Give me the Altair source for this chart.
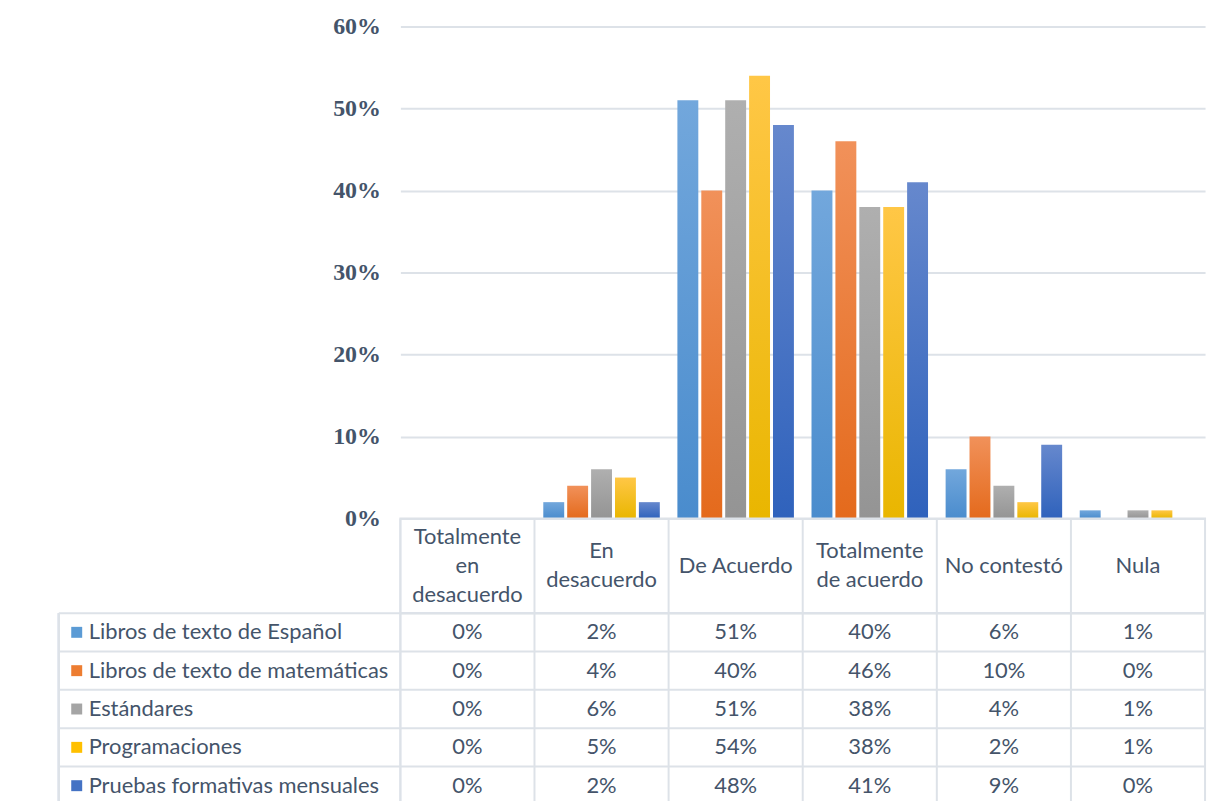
import altair as alt
import pandas as pd

# ---------------- data ----------------
categories = ["Totalmente en desacuerdo", "En desacuerdo", "De Acuerdo",
              "Totalmente de acuerdo", "No contestó", "Nula"]
header_labels = ["Totalmente\nen\ndesacuerdo", "En\ndesacuerdo", "De Acuerdo",
                 "Totalmente\nde acuerdo", "No contestó", "Nula"]
series = ["Libros de texto de Español", "Libros de texto de matemáticas",
          "Estándares", "Programaciones", "Pruebas formativas mensuales"]
row_labels = ["Libros de texto de Español", "Libros de texto de matemáticas",
              "Estándares", "\u00a0Programaciones", "\u00a0Pruebas formativas mensuales"]
espanol = [0, 2, 51, 40, 6, 1]
matematicas = [0, 4, 40, 46, 10, 0]
estandares = [0, 6, 51, 38, 4, 1]
programaciones = [0, 5, 54, 38, 2, 1]
pruebas = [0, 2, 48, 41, 9, 0]
y_ticks = [0, 10, 20, 30, 40, 50, 60]

# ---------------- styles ----------------
top_colors = ["#72a7dc", "#f1915a", "#afafaf", "#ffc746", "#6688cd"]
bottom_colors = ["#4a8ccd", "#e46a1c", "#949494", "#e9b600", "#2f62bc"]
solid_colors = ["#5b9bd5", "#ed7d31", "#a5a5a5", "#ffc000", "#4472c4"]
GRID = "#dde2e8"
TXT = "#44546a"
W, H = 808, 494
HDR_H = 95
ROW_H = 38.5
LEFT_COL = 343
LINE_H = 29

all_vals = [espanol, matematicas, estandares, programaciones, pruebas]
rows = []
for s, lab, vals in zip(series, row_labels, all_vals):
    for c, v in zip(categories, vals):
        rows.append({"series": s, "label": lab, "category": c, "value": v, "text": f"{v}%"})
df = pd.DataFrame(rows)
hdr_df = pd.DataFrame({"category": categories, "header": header_labels})
hdr_df["nlines"] = hdr_df["header"].str.count("\n") + 1
ser_df = pd.DataFrame({"series": series, "label": row_labels})

x_scale = alt.Scale(domain=categories, paddingInner=0, paddingOuter=0)
xo_scale = alt.Scale(domain=series, paddingInner=0.125, paddingOuter=0.368)
y_rows_scale = alt.Scale(domain=series, paddingInner=0, paddingOuter=0)

x_enc = alt.X("category:N", scale=x_scale, axis=None)
x_start = alt.X("category:N", scale=x_scale, axis=None, bandPosition=0)
y_enc = alt.Y(
    "value:Q",
    scale=alt.Scale(domain=[0, 60]),
    axis=alt.Axis(values=y_ticks, labelExpr="datum.value + '%'", grid=True,
                  gridColor=GRID, gridWidth=2, domain=False, ticks=False,
                  labelFont="Liberation Serif", labelFontWeight="bold",
                  labelFontSize=24, labelColor=TXT, labelPadding=20, title=None),
)


def bar_layer(i):
    grad = alt.Gradient(
        gradient="linear", x1=0, x2=0, y1=0, y2=1,
        stops=[alt.GradientStop(offset=0, color=top_colors[i]),
               alt.GradientStop(offset=1, color=bottom_colors[i])],
    )
    return (
        alt.Chart(df)
        .transform_filter(alt.datum.series == series[i])
        .mark_bar(color=grad)
        .encode(x=x_enc, xOffset=alt.XOffset("series:N", scale=xo_scale), y=y_enc)
    )


bars = alt.layer(*[bar_layer(i) for i in range(len(series))]).properties(width=W, height=H)

# ---------------- header row of the data table ----------------
def header_text(n):
    # multi-line labels: shift the block up so that it is centred in the cell
    return (
        alt.Chart(hdr_df)
        .transform_filter(alt.datum.nlines == n)
        .mark_text(font="Lato", fontSize=22, color=TXT, lineBreak="\n",
                   lineHeight=LINE_H, baseline="middle", dy=-(n - 1) * LINE_H / 2)
        .encode(x=x_enc, text="header:N")
    )


header = alt.layer(
    alt.Chart(hdr_df).mark_rule(color=GRID, strokeWidth=2).encode(x=x_start),
    *[header_text(n) for n in (1, 2, 3)],
).properties(width=W, height=HDR_H,
             view=alt.ViewBackground(stroke=GRID, strokeWidth=2))

# ---------------- value rows of the data table ----------------
y_rows = alt.Y("series:N", scale=y_rows_scale, axis=None)
y_rows_start = alt.Y("series:N", scale=y_rows_scale, axis=None, bandPosition=0)
table_h = ROW_H * len(series)

row_lines = alt.Chart(ser_df).mark_rule(color=GRID, strokeWidth=2).encode(
    y=y_rows_start, x=alt.value(-LEFT_COL), x2=alt.value(W))
col_lines = alt.Chart(hdr_df).mark_rule(color=GRID, strokeWidth=2).encode(x=x_start)
left_line = alt.Chart(ser_df).mark_rule(color=GRID, strokeWidth=2).encode(
    x=alt.value(-LEFT_COL), y=alt.value(0), y2=alt.value(table_h))
names = alt.Chart(ser_df).mark_text(align="left", baseline="middle", font="Lato",
                                    fontSize=22, color=TXT).encode(
    x=alt.value(-313), y=y_rows, text="label:N")
squares = alt.Chart(ser_df).mark_square(size=121, opacity=1).encode(
    x=alt.value(-325), y=y_rows,
    color=alt.Color("series:N", scale=alt.Scale(domain=series, range=solid_colors), legend=None))
cells = alt.Chart(df).mark_text(font="Lato", fontSize=22, color=TXT, baseline="middle").encode(
    x=x_enc, y=y_rows, text="text:N")

table = alt.layer(row_lines, col_lines, left_line, squares, names, cells).properties(
    width=W, height=table_h, view=alt.ViewBackground(stroke=GRID, strokeWidth=2))

chart = (
    alt.vconcat(bars, header, table, spacing=0, bounds="flush")
    .configure_view(stroke="transparent")
    .properties(padding={"left": 49, "top": 4, "right": 10, "bottom": 0})
)

chart.save("out.html", embed_options={"renderer": "svg", "actions": False})
